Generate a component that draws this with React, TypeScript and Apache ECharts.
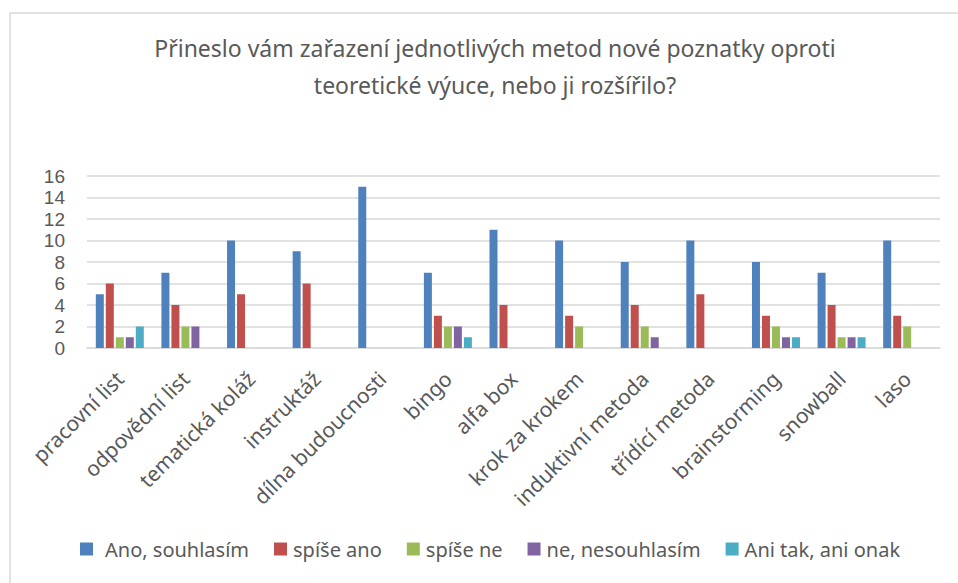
import React, { useEffect, useRef } from "react";
import * as echarts from "echarts";

const categories = [
  "pracovní list",
  "odpovědní list",
  "tematická koláž",
  "instruktáž",
  "dílna budoucnosti",
  "bingo",
  "alfa box",
  "krok za krokem",
  "induktivní metoda",
  "třídící metoda",
  "brainstorming",
  "snowball",
  "laso",
];

const anoSouhlasim = [5, 7, 10, 9, 15, 7, 11, 10, 8, 10, 8, 7, 10];
const spiseAno = [6, 4, 5, 6, 0, 3, 4, 3, 4, 5, 3, 4, 3];
const spiseNe = [1, 2, 0, 0, 0, 2, 0, 2, 2, 0, 2, 1, 2];
const neNesouhlasim = [1, 2, 0, 0, 0, 2, 0, 0, 1, 0, 1, 1, 0];
const aniTakAniOnak = [2, 0, 0, 0, 0, 1, 0, 0, 0, 0, 1, 1, 0];

const seriesNames = ["Ano, souhlasím", "spíše ano", "spíše ne", "ne, nesouhlasím", "Ani tak, ani onak"];
const seriesData = [anoSouhlasim, spiseAno, spiseNe, neNesouhlasim, aniTakAniOnak];
const colors = ["#4F81BD", "#C0504D", "#9BBB59", "#8064A2", "#4BACC6"];

const titleText = "Přineslo vám zařazení jednotlivých metod nové poznatky oproti\nteoretické výuce, nebo ji rozšířilo?";

export default function App() {
  const ref = useRef<HTMLDivElement>(null);
  useEffect(() => {
    if (!ref.current) return;
    const chart = echarts.init(ref.current, null, { renderer: "svg" });
    const font = "'Noto Sans', 'Open Sans', sans-serif";
    chart.setOption({
      animation: false,
      backgroundColor: "#ffffff",
      color: colors,
      textStyle: { fontFamily: font },
      graphic: [
        {
          type: "rect",
          shape: { x: 10, y: 13, width: 1000, height: 1000 },
          style: { fill: "none", stroke: "#d9d9d9", lineWidth: 1.5 },
          silent: true,
        },
      ],
      title: {
        text: titleText,
        left: 490,
        textAlign: "center",
        top: 24,
        textStyle: {
          fontFamily: font,
          fontSize: 23,
          fontWeight: "normal",
          color: "#595959",
          lineHeight: 37,
        },
      },
      legend: {
        bottom: 19,
        left: 75,
        itemWidth: 13,
        itemHeight: 13,
        itemGap: 25,
        icon: "rect",
        textStyle: { fontFamily: font, fontSize: 20, color: "#595959", padding: [0, 0, 0, 1] },
        data: seriesNames.map((name, i) =>
          i === 0 ? { name, textStyle: { padding: [0, 0, 0, 7] } } : { name }
        ),
      },
      grid: { left: 87, right: 18, top: 176, bottom: 235, containLabel: false },
      xAxis: {
        type: "category",
        data: categories,
        axisLine: { lineStyle: { color: "#d9d9d9", width: 1.5 } },
        axisTick: { show: false },
        axisLabel: {
          interval: 0,
          rotate: 45,
          fontFamily: font,
          fontSize: 21,
          color: "#595959",
          margin: 27,
        },
      },
      yAxis: {
        type: "value",
        min: 0,
        max: 16,
        interval: 2,
        axisLine: { show: false },
        axisTick: { show: false },
        splitLine: { lineStyle: { color: "#d9d9d9", width: 1.5 } },
        axisLabel: {
          fontFamily: "'Liberation Sans', Arial, sans-serif",
          fontSize: 19,
          lineHeight: 19,
          color: "#595959",
          margin: 22,
        },
      },
      series: seriesNames.map((name, i) => ({
        name,
        type: "bar",
        data: seriesData[i],
        barWidth: 8,
        barGap: "25%",
        itemStyle: { color: colors[i] },
      })),
    });
    return () => chart.dispose();
  }, []);
  return <div ref={ref} style={{ position: "fixed", left: 0, top: 0, width: 958, height: 583 }} />;
}
